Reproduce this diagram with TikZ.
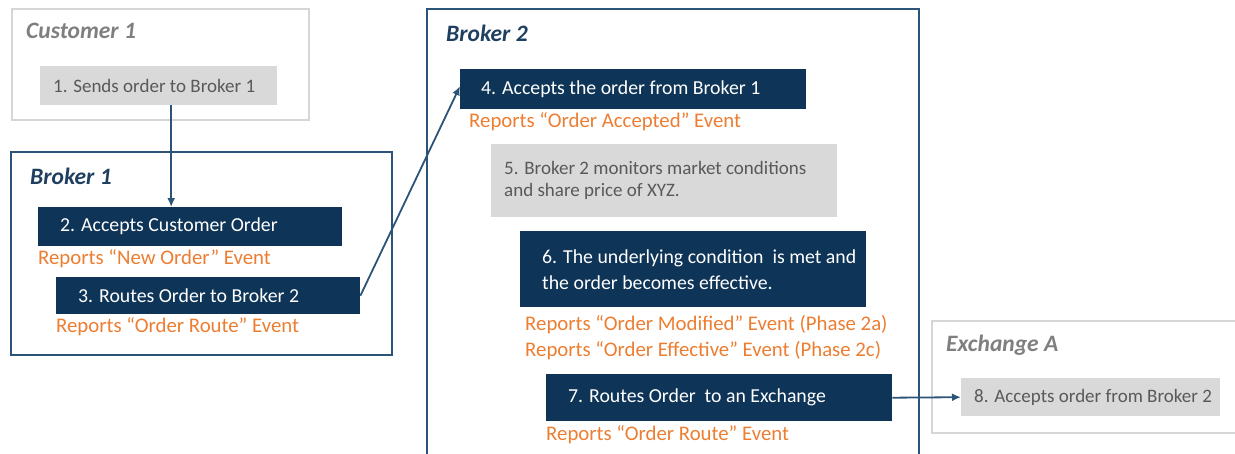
\documentclass[tikz,border=0pt]{standalone}
\usepackage{fontspec}
\setmainfont{Carlito}
\usetikzlibrary{arrows.meta,calc}
\definecolor{navy}{HTML}{0E3457}
\definecolor{bluebord}{HTML}{2B5478}
\definecolor{lgray}{HTML}{D9D9D9}
\definecolor{bordgray}{HTML}{D6D6D6}
\definecolor{txtgray}{HTML}{595959}
\definecolor{ttlgray}{HTML}{7F7F7F}
\definecolor{ttlblue}{HTML}{1F3F60}
\definecolor{orng}{HTML}{ED7D31}
\tikzset{
  navybox/.style={fill=navy, anchor=north west, inner sep=0pt},
  graybox/.style={fill=lgray, anchor=north west, inner sep=0pt},
  wtxt/.style={font=\fontsize{19.8}{26}\selectfont, text=white, anchor=west, align=left, inner sep=0pt},
  gtxt/.style={font=\fontsize{19}{22}\selectfont, text=txtgray, anchor=west, align=left, inner sep=0pt},
  orange/.style={font=\fontsize{20.8}{26}\selectfont, text=orng, anchor=west, inner sep=0pt, align=left},
  ttl/.style={font=\fontsize{23.5}{26}\selectfont\bfseries\itshape, anchor=west, inner sep=0pt},
  grayframe/.style={draw=bordgray, line width=1.8pt},
  blueframe/.style={draw=bluebord, line width=1.8pt},
  arr/.style={draw=bluebord, line width=1.8pt, -{Latex[length=9pt,width=8pt]}}
}
\begin{document}
\begin{tikzpicture}[x=1pt,y=-1pt]
\useasboundingbox (0,0) rectangle (1235,453);
\clip (0,0) rectangle (1235,453);
% frames
\draw[grayframe] (12,9) rectangle (309,120);
\draw[blueframe] (11,152) rectangle (392,355);
\draw[blueframe] (427,9) rectangle (919,470);
\draw[grayframe] (932,321) rectangle (1250,433);
% titles
\node[ttl, text=ttlgray] (t1) at (26,31) {Customer 1};
\node[ttl, text=ttlblue] (t2) at (30,176) {Broker 1};
\node[ttl, text=ttlblue] (t3) at (446,33) {Broker 2};
\node[ttl, text=ttlgray] (t4) at (946,345) {Exchange A};
% boxes
\node[graybox, minimum width=237pt, minimum height=39pt] (b1) at (40,66) {};
\node[gtxt] (x1) at ([xshift=13pt]b1.west) {1. Sends order to Broker 1};
\node[navybox, minimum width=304pt, minimum height=39pt] (b2) at (38,207) {};
\node[wtxt] (x2) at ([xshift=22pt]b2.west) {2. Accepts Customer Order};
\node[orange] (o2) at (38,259) {Reports “New Order” Event};
\node[navybox, minimum width=304pt, minimum height=37pt] (b3) at (56,277) {};
\node[wtxt] (x3) at ([xshift=22pt]b3.west) {3. Routes Order to Broker 2};
\node[orange] (o3) at (56,327) {Reports “Order Route” Event};
\node[navybox, minimum width=346pt, minimum height=40pt] (b4) at (460,69) {};
\node[wtxt] (x4) at ([xshift=21pt]b4.west) {4. Accepts the order from Broker 1};
\node[orange] (o4) at (469,122) {Reports “Order Accepted” Event};
\node[graybox, minimum width=346pt, minimum height=73pt] (b5) at (491,144) {};
\node[gtxt] (x5) at ([xshift=13pt]b5.west) {5. Broker 2 monitors market conditions\\and share price of XYZ.};
\node[navybox, minimum width=346pt, minimum height=76pt] (b6) at (520,231) {};
\node[wtxt] (x6) at ([xshift=22pt]b6.west) {6. The underlying condition\ \ is met and\\the order becomes effective.};
\node[orange] (o6) at (525,338) {Reports “Order Modified” Event (Phase 2a)\\Reports “Order Effective” Event (Phase 2c)};
\node[navybox, minimum width=346pt, minimum height=47pt] (b7) at (546,374) {};
\node[wtxt] (x7) at ([xshift=22pt]b7.west) {7. Routes Order\ \ to an Exchange};
\node[orange] (o7) at (546,435) {Reports “Order Route” Event};
\node[graybox, minimum width=259pt, minimum height=38pt] (b8) at (961,378) {};
\node[gtxt] (x8) at ([xshift=13pt]b8.west) {8. Accepts order from Broker 2};
% connectors
\draw[arr] ([xshift=12.5pt]b1.south) -- ([xshift=-19pt]b2.north);
\draw[arr] (b3.east) -- ([yshift=3pt]b4.west);
\draw[arr] (b7.east) -- (b8.west);
\end{tikzpicture}
\end{document}
